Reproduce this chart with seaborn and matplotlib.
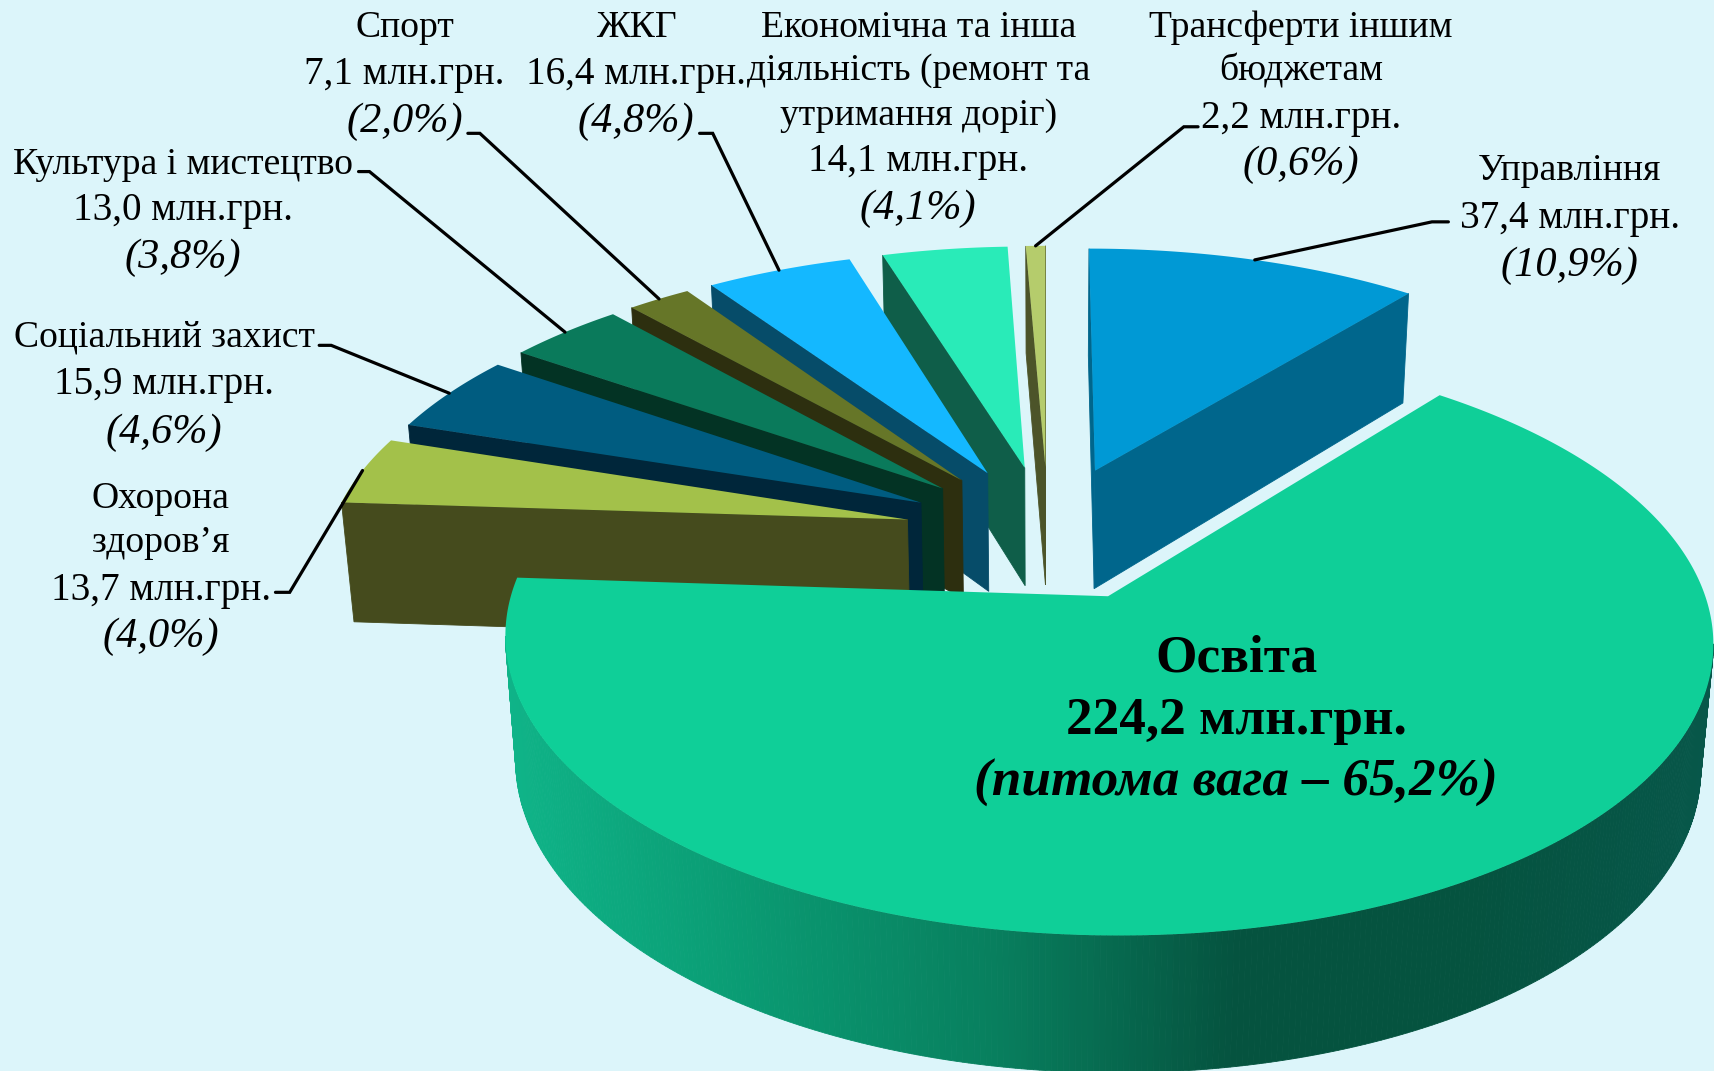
import numpy as np
import matplotlib
matplotlib.use("Agg")
import matplotlib.pyplot as plt
import seaborn as sns

# budget items, education first, the others follow counter clockwise from its upper edge
names = ["Освіта", "Управління", "Трансферти іншим бюджетам", "Економічна та інша діяльність",
         "ЖКГ", "Спорт", "Культура і мистецтво", "Соціальний захист", "Охорона здоров'я"]
values = [224.2, 37.4, 2.2, 14.1, 16.4, 7.1, 13.0, 15.9, 13.7]
shares = ["65,2%", "10,9%", "0,6%", "4,1%", "4,8%", "2,0%", "3,8%", "4,6%", "4,0%"]
amounts = ["224,2", "37,4", "2,2", "14,1", "16,4", "7,1", "13,0", "15,9", "13,7"]

top_colors = ["#0FCF98", "#0099D5", "#B5CC6C", "#29EBB8", "#14B8FF",
              "#667628", "#0A7A5B", "#005C80", "#A3C14A"]
wall_colors = ["#0A8C68", "#00668C", "#4C5429", "#0F5E49", "#064C69",
               "#2D2F0F", "#033324", "#00263A", "#454B1D"]
edu_wall = ["#0FB488", "#0A9A72", "#087F5E", "#05533F", "#05533F", "#07574A"]
BG = "#DCF5FA"

# camera for the tilted pie, in picture units of the 1568x980 preview
CX, CY = 959, 487
E = np.radians(27.9)
DIST = 6.16
FOCAL = 3255
HEIGHT = 0.241
EXPLODE = 0.25
START = 50.9


def project(x, y, z=0.0):
    d = DIST + y * np.cos(E) - z * np.sin(E)
    v = y * np.sin(E) + z * np.cos(E)
    return CX + FOCAL * x / d, CY - FOCAL * v / d


def slice_outline(a, b, n):
    # disc coordinates of one wedge, counter clockwise, apex first
    mid = np.radians((a + b) / 2)
    ox, oy = EXPLODE * np.cos(mid), EXPLODE * np.sin(mid)
    t = np.radians(np.linspace(a, b, n))
    xs = np.r_[ox, ox + np.cos(t)]
    ys = np.r_[oy, oy + np.sin(t)]
    return xs, ys


sns.set_style("white")
plt.rcParams["font.family"] = ["Liberation Serif", "DejaVu Serif"]

fig = plt.figure(figsize=(17.14, 10.71), dpi=100, facecolor=BG)
ax = fig.add_axes([0, 0, 1, 1], facecolor=BG)
ax.set_xlim(0, 1568)
ax.set_ylim(980, 0)
ax.axis("off")

gradient = sns.blend_palette(edu_wall, 256)
sweeps = np.array(values) / np.sum(values) * 360

# angles: education runs clockwise from START, the others counter clockwise from it
ranges = [(START - sweeps[0], START)]
angle = START
for s in sweeps[1:]:
    ranges.append((angle, angle + s))
    angle += s

anchors = {}
# far side first, education goes over everything
for i in list(range(1, len(values))) + [0]:
    a, b = ranges[i]
    n = max(8, int((b - a) * 2))
    xs, ys = slice_outline(a, b, n)
    tx, ty = project(xs, ys)
    bx, by = project(xs, ys, -HEIGHT)
    for j in range(len(xs)):
        k = (j + 1) % len(xs)
        if tx[k] - tx[j] <= 0:
            continue
        if i == 0:
            c = gradient[int(np.clip((tx[j] - 462) / (1568 - 462), 0, 1) * 255)]
        else:
            c = wall_colors[i]
        ax.fill([tx[j], tx[k], bx[k], bx[j]], [ty[j], ty[k], by[k], by[j]],
                color=c, lw=0.6, zorder=2 + i * 0.01 if i else 3)
    ax.fill(tx, ty, color=top_colors[i], lw=0, zorder=2.005 + i * 0.01 if i else 3.5)
    mid = np.radians((a + b) / 2)
    anchors[i] = project((EXPLODE + 1) * np.cos(mid), (EXPLODE + 1) * np.sin(mid))

UNIT = " млн.грн."
# text blocks: centre x, line centres y
label_rows = {
    1: (1436, [156, 200, 243], ["Управління"]),
    2: (1190, [25, 65, 108, 151], ["Трансферти іншим", "бюджетам"]),
    3: (840, [25, 65, 106, 148, 191], ["Економічна та інша", "діяльність (ремонт та", "утримання доріг)"]),
    4: (582, [25, 68, 111], ["ЖКГ"]),
    5: (370, [25, 68, 111], ["Спорт"]),
    6: (167, [151, 193, 236], ["Культура і мистецтво"]),
    7: (150, [309, 352, 396], ["Соціальний захист"]),
    8: (147, [456, 497, 540, 583], ["Охорона", "здоров’я"]),
}
for i, (x, rows, head) in label_rows.items():
    for y, line in zip(rows, head):
        ax.text(x, y, line, ha="center", va="center", fontsize=27.1, color="black", zorder=6)
    ax.text(x, rows[-2], amounts[i] + UNIT, ha="center", va="center", fontsize=28.2,
            color="black", zorder=6)
    ax.text(x, rows[-1], "(" + shares[i] + ")", ha="center", va="center", fontsize=30.5,
            style="italic", color="black", zorder=6)

edu_lines = ["Освіта", amounts[0] + UNIT, "(питома вага – " + shares[0] + ")"]
for y, line, st in zip([603, 660, 716], edu_lines, ["normal", "normal", "italic"]):
    ax.text(1131, y, line, ha="center", va="center", fontsize=38.3, weight="bold",
            style=st, color="black", zorder=6)

# leader lines: short stub next to the text, then down to the middle of the arc
stubs = {1: (1325, 1310, 203), 2: (1096, 1083, 116), 4: (640, 652, 122), 5: (428, 439, 122),
         6: (328, 338, 157), 7: (292, 303, 316), 8: (252, 265, 542)}
for i, (x0, x1, y) in stubs.items():
    ex, ey = anchors[i]
    ax.plot([x0, x1, ex], [y, y, ey], color="black", lw=2.3, solid_joinstyle="miter", zorder=5)

fig.savefig("out.png", dpi=100, facecolor=BG)
